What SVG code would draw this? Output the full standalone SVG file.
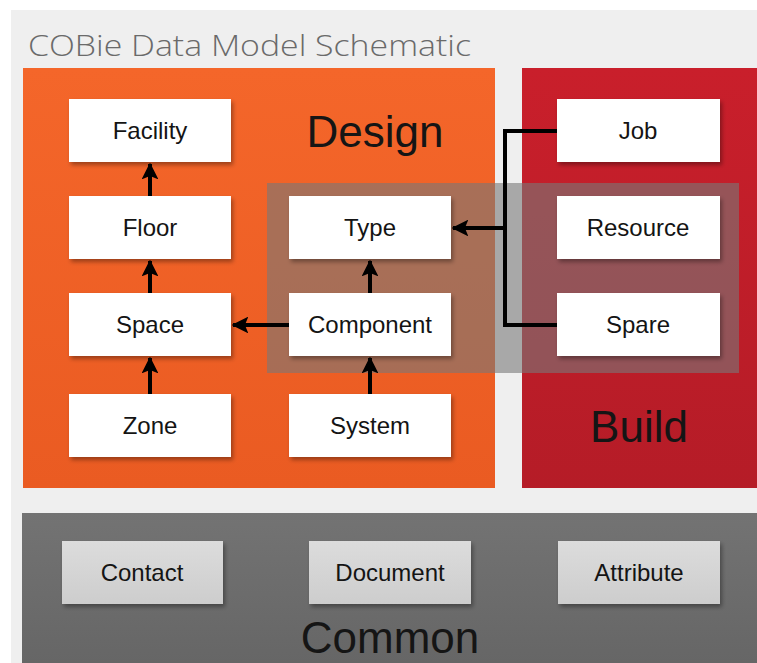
<svg xmlns="http://www.w3.org/2000/svg" width="757" height="663" viewBox="0 0 757 663">
  <defs>
    <style>
      .title { font-family: "Open Sans", "Liberation Sans", sans-serif; font-weight: 300; font-size: 30px; fill: #6a6a6a; }
      .panel-label { font-family: "Liberation Sans", Arial, sans-serif; font-size: 44px; fill: #151515; text-anchor: middle; }
      .box { fill: #ffffff; filter: url(#shadow); }
      .box-common { fill: url(#commonBox); filter: url(#shadow); }
      .label { font-family: "Liberation Sans", Arial, sans-serif; font-size: 24px; fill: #141414; text-anchor: middle; }
      .wire { fill: none; stroke: #000; stroke-width: 4; }
    </style>
    <filter id="shadow" x="-10%" y="-15%" width="125%" height="140%">
      <feDropShadow dx="2" dy="3" stdDeviation="2" flood-color="#000" flood-opacity="0.35"/>
    </filter>
    <linearGradient id="designFill" x1="0" y1="0" x2="0" y2="1">
      <stop offset="0" stop-color="#f4662a"/>
      <stop offset="1" stop-color="#ea5b22"/>
    </linearGradient>
    <linearGradient id="buildFill" x1="0" y1="0" x2="0" y2="1">
      <stop offset="0" stop-color="#c91f2b"/>
      <stop offset="1" stop-color="#b51c27"/>
    </linearGradient>
    <linearGradient id="commonFill" x1="0" y1="0" x2="0" y2="1">
      <stop offset="0" stop-color="#737373"/>
      <stop offset="1" stop-color="#666666"/>
    </linearGradient>
    <linearGradient id="commonBox" x1="0" y1="0" x2="0" y2="1">
      <stop offset="0" stop-color="#dcdcdc"/>
      <stop offset="1" stop-color="#cdcdcd"/>
    </linearGradient>
    <marker id="arrow" viewBox="0 0 12 12" refX="11" refY="6" markerWidth="4.2" markerHeight="4.2" orient="auto" markerUnits="strokeWidth">
      <path d="M0,0 L12,6 L0,12 L2.5,6 z" fill="#000"/>
    </marker>
  </defs>

  <!-- backdrop -->
  <rect x="0" y="0" width="757" height="663" fill="#ffffff"/>
  <rect x="11" y="10" width="746" height="653" fill="#efefef"/>

  <text class="title" x="28" y="56" textLength="443" lengthAdjust="spacingAndGlyphs">COBie Data Model Schematic</text>

  <!-- section panels -->
  <g id="design-panel">
    <rect x="23" y="68" width="472" height="420" fill="url(#designFill)"/>
    <text class="panel-label" x="375" y="147">Design</text>
  </g>
  <g id="build-panel">
    <rect x="522" y="68" width="235" height="420" fill="url(#buildFill)"/>
    <text class="panel-label" x="639" y="442">Build</text>
  </g>
  <g id="common-panel">
    <rect x="22" y="513" width="735" height="150" fill="url(#commonFill)"/>
    <text class="panel-label" x="390" y="653">Common</text>
  </g>

  <!-- shared band over Design and Build -->
  <rect id="overlap-band" x="267" y="183" width="472" height="190" fill="#787878" fill-opacity="0.6"/>

  <!-- connectors -->
  <g id="connectors">
    <line class="wire" x1="150" y1="196" x2="150" y2="164" marker-end="url(#arrow)"/>
    <line class="wire" x1="150" y1="293" x2="150" y2="261" marker-end="url(#arrow)"/>
    <line class="wire" x1="150" y1="394" x2="150" y2="358" marker-end="url(#arrow)"/>
    <line class="wire" x1="370" y1="293" x2="370" y2="261" marker-end="url(#arrow)"/>
    <line class="wire" x1="370" y1="394" x2="370" y2="358" marker-end="url(#arrow)"/>
    <line class="wire" x1="289" y1="325" x2="233" y2="325" marker-end="url(#arrow)"/>
    <polyline class="wire" points="557,131 505,131 505,325 557,325"/>
    <line class="wire" x1="507" y1="228" x2="453" y2="228" marker-end="url(#arrow)"/>
  </g>

  <!-- Design nodes -->
  <g id="facility"><rect class="box" x="69" y="99" width="162" height="63"/><text class="label" x="150" y="139">Facility</text></g>
  <g id="floor"><rect class="box" x="69" y="196" width="162" height="63"/><text class="label" x="150" y="236">Floor</text></g>
  <g id="space"><rect class="box" x="69" y="293" width="162" height="63"/><text class="label" x="150" y="333">Space</text></g>
  <g id="zone"><rect class="box" x="69" y="394" width="162" height="63"/><text class="label" x="150" y="434">Zone</text></g>
  <g id="type"><rect class="box" x="289" y="196" width="162" height="63"/><text class="label" x="370" y="236">Type</text></g>
  <g id="component"><rect class="box" x="289" y="293" width="162" height="63"/><text class="label" x="370" y="333">Component</text></g>
  <g id="system"><rect class="box" x="289" y="394" width="162" height="63"/><text class="label" x="370" y="434">System</text></g>

  <!-- Build nodes -->
  <g id="job"><rect class="box" x="557" y="99" width="163" height="63"/><text class="label" x="638" y="139">Job</text></g>
  <g id="resource"><rect class="box" x="557" y="196" width="163" height="63"/><text class="label" x="638" y="236">Resource</text></g>
  <g id="spare"><rect class="box" x="557" y="293" width="163" height="63"/><text class="label" x="638" y="333">Spare</text></g>

  <!-- Common nodes -->
  <g id="contact"><rect class="box-common" x="62" y="541" width="161" height="63"/><text class="label" x="142" y="581">Contact</text></g>
  <g id="document"><rect class="box-common" x="309" y="541" width="162" height="63"/><text class="label" x="390" y="581">Document</text></g>
  <g id="attribute"><rect class="box-common" x="558" y="541" width="162" height="63"/><text class="label" x="639" y="581">Attribute</text></g>
</svg>
